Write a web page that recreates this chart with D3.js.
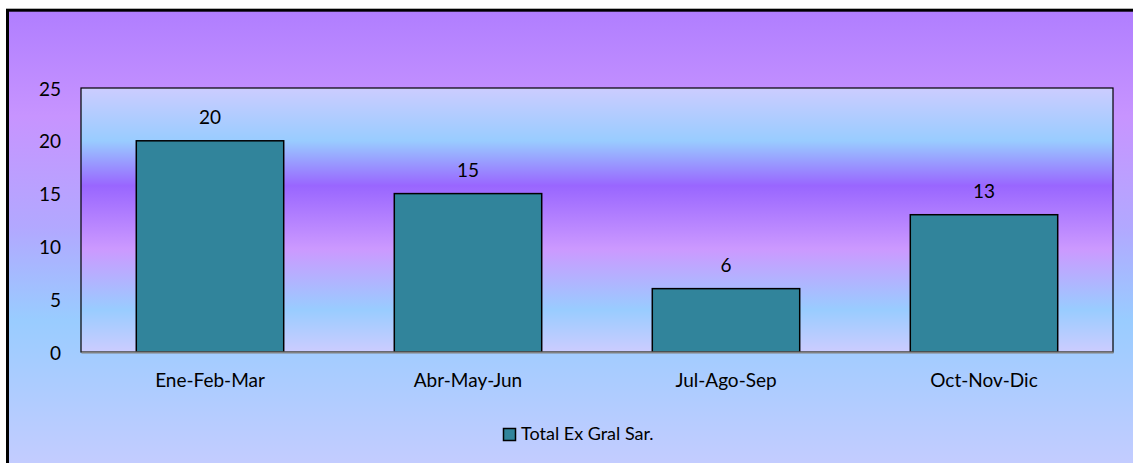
<!DOCTYPE html>
<html>
<head>
<meta charset="utf-8">
<script src="https://cdn.jsdelivr.net/npm/d3@7"></script>
<style>
  html, body { margin: 0; padding: 0; background: #ffffff; }
  svg { display: block; }
  text { font-family: Lato, "Noto Sans", sans-serif; fill: #000; }
</style>
</head>
<body>
<div id="chart"></div>
<script>
const categories = ["Ene-Feb-Mar", "Abr-May-Jun", "Jul-Ago-Sep", "Oct-Nov-Dic"];
const seriesName = "Total Ex Gral Sar.";
const values = [20, 15, 6, 13];
const yTicks = [0, 5, 10, 15, 20, 25];

const W = 1133, H = 463;
const plot = { left: 81, right: 1113, top: 88, bottom: 352 };
const fontSize = 19;

const svg = d3.select("#chart").append("svg")
  .attr("width", W).attr("height", H);

const defs = svg.append("defs");
const outerGrad = defs.append("linearGradient")
  .attr("id", "outerGrad").attr("x1", 0).attr("y1", 0).attr("x2", 0).attr("y2", 1);
[[0, "#B07EFF"], [0.22, "#C794FF"], [0.45, "#B2A8FF"], [0.64, "#99CCFF"], [1, "#CCCCFF"]]
  .forEach(([o, c]) => outerGrad.append("stop").attr("offset", o).attr("stop-color", c));

const plotGrad = defs.append("linearGradient")
  .attr("id", "plotGrad").attr("x1", 0).attr("y1", 0).attr("x2", 0).attr("y2", 1);
[[0, "#CCCCFF"], [0.2, "#99CCFF"], [0.37, "#9966FF"], [0.61, "#CC99FF"], [0.84, "#99CCFF"], [1, "#CCCCFF"]]
  .forEach(([o, c]) => plotGrad.append("stop").attr("offset", o).attr("stop-color", c));

// Chart area with border (extends past right/bottom of the window)
svg.append("rect")
  .attr("x", 7.5).attr("y", 10.2)
  .attr("width", W + 20).attr("height", H + 20)
  .attr("fill", "url(#outerGrad)")
  .attr("stroke", "#000").attr("stroke-width", 3);

const x = d3.scaleBand()
  .domain(categories)
  .range([plot.left, plot.right])
  .paddingInner(0.4286)
  .paddingOuter(0.2143);

const y = d3.scaleLinear()
  .domain([0, 25])
  .range([plot.bottom, plot.top]);

// Plot area
svg.append("rect")
  .attr("x", plot.left).attr("y", plot.top)
  .attr("width", plot.right - plot.left).attr("height", plot.bottom - plot.top)
  .attr("fill", "url(#plotGrad)")
  .attr("stroke", "#000").attr("stroke-width", 1.2);

// Bars
svg.append("g").selectAll("rect")
  .data(values)
  .join("rect")
  .attr("x", (d, i) => x(categories[i]))
  .attr("y", d => y(d))
  .attr("width", x.bandwidth())
  .attr("height", d => y(0) - y(d))
  .attr("fill", "#31849B")
  .attr("stroke", "#000")
  .attr("stroke-width", 1.5);

// Category axis line
const xAxis = d3.axisBottom(x).tickSize(0).tickPadding(0);
const gx = svg.append("g")
  .attr("transform", `translate(0,${plot.bottom})`)
  .call(xAxis);
gx.select(".domain").attr("stroke", "#808080").attr("stroke-width", 2);
gx.selectAll("text")
  .attr("dy", null)
  .attr("y", 35)
  .style("font-family", "Lato, 'Noto Sans', sans-serif")
  .style("font-size", fontSize + "px")
  .attr("fill", "#000");

// Value axis labels
const yAxis = d3.axisLeft(y).tickValues(yTicks).tickSize(0).tickPadding(0);
const gy = svg.append("g")
  .attr("transform", `translate(${plot.left - 20},0)`)
  .call(yAxis);
gy.select(".domain").remove();
gy.selectAll("text")
  .attr("dy", null)
  .attr("y", 7)
  .style("font-family", "Lato, 'Noto Sans', sans-serif")
  .style("font-size", fontSize + "px")
  .attr("fill", "#000");

// Data labels
svg.append("g").selectAll("text")
  .data(values)
  .join("text")
  .attr("x", (d, i) => x(categories[i]) + x.bandwidth() / 2)
  .attr("y", d => y(d) - 17)
  .attr("text-anchor", "middle")
  .style("font-size", fontSize + "px")
  .text(d => d);

// Legend
const legend = svg.append("g");
legend.append("rect")
  .attr("x", 503.5).attr("y", 428.5)
  .attr("width", 12).attr("height", 12)
  .attr("fill", "#31849B")
  .attr("stroke", "#000").attr("stroke-width", 1.5);
legend.append("text")
  .attr("x", 521).attr("y", 440)
  .style("font-size", "18px")
  .text(seriesName);
</script>
</body>
</html>
